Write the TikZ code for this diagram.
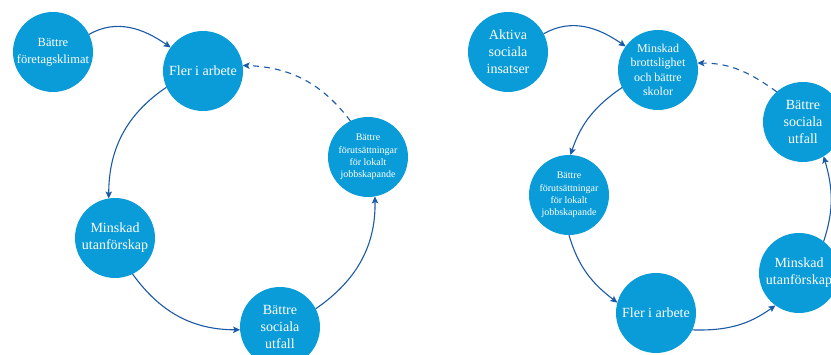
\documentclass[tikz,border=0pt]{standalone}
\usepackage{fontspec}
\setmainfont{Liberation Serif}
\usetikzlibrary{arrows.meta}
\definecolor{bub}{HTML}{0A9CD8}
\definecolor{arr}{HTML}{1B5AA6}
\begin{document}
\begin{tikzpicture}[x=1pt,y=1pt,
  bubble/.style={circle, fill=bub, draw=none, minimum size=80pt, inner sep=0pt, outer sep=0pt, text=white, align=center},
  big/.style={font=\fontsize{14}{17}\selectfont},
  mid/.style={font=\fontsize{12}{14.5}\selectfont},
  klim/.style={font=\fontsize{12.5}{17}\selectfont},
  small/.style={font=\fontsize{10}{12.4}\selectfont},
  link/.style={draw=arr, line width=1.1pt, -{Stealth[length=7pt,width=6.5pt,inset=1.5pt]}},
  dashlink/.style={link, dash pattern=on 6pt off 5pt}]
\useasboundingbox (0,0) rectangle (831,355);
% left diagram
\node[bubble,klim] (klimat) at (53,303) {Bättre\\företagsklimat};
\node[bubble,big] (fler1) at (203,284) {Fler i arbete};
\node[bubble,small] (forut1) at (368,198) {Bättre\\förutsättningar\\för lokalt\\jobbskapande};
\node[bubble,big] (mins1) at (115,117) {Minskad\\utanförskap};
\node[bubble,big] (soc1) at (280,28) {Bättre\\sociala\\utfall};
\draw[link] (klimat.26) to[out=30,in=145] (fler1.144);
\draw[link] (fler1.204.7) to[out=214,in=90] (mins1.99.7);
\draw[link] (mins1.296) to[out=305.7,in=180] (soc1.184);
\draw[link] (soc1.27.8) to[out=34.6,in=271] (forut1.280);
\draw[dashlink] (forut1.116.6) to[out=127,in=358] (fler1.8.3);
% right diagram
\node[bubble,big] (aktiva) at (508,303) {Aktiva\\sociala\\insatser};
\node[bubble,mid] (brott) at (658,285) {Minskad\\brottslighet\\och bättre\\skolor};
\node[bubble,small] (forut2) at (569,160) {Bättre\\förutsättningar\\för lokalt\\jobbskapande};
\node[bubble,big] (fler2) at (656,42) {Fler i arbete};
\node[bubble,big] (mins2) at (799,82) {Minskad\\utanförskap};
\node[bubble,big] (soc2) at (803,233) {Bättre\\sociala\\utfall};
\draw[link] (aktiva.27) to[out=30,in=145] (brott.144.8);
\draw[link] (brott.206.6) to[out=214.3,in=71.3] (forut2.88.6);
\draw[link] (forut2.270) to[out=286.1,in=142.7] (fler2.165.6);
\draw[link] (fler2.335) to[out=358.3,in=215.8] (mins2.234);
\draw[link] (mins2.52.9) to[out=71.7,in=286.4] (soc2.301);
\draw[dashlink] (soc2.131) to[out=144.2,in=0] (brott.10);
\end{tikzpicture}
\end{document}
